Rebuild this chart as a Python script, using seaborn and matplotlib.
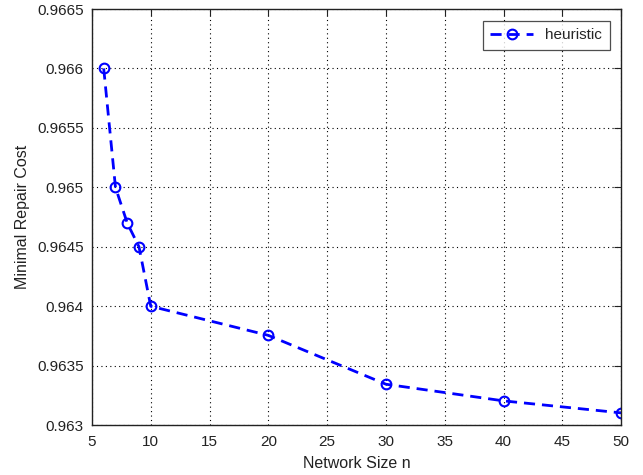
import numpy as np
import pandas as pd
import seaborn as sns
import matplotlib
matplotlib.use("Agg")
import matplotlib.pyplot as plt

# Data
network_size = [6, 7, 8, 9, 10, 20, 30, 40, 50]
repair_cost = [0.9660, 0.9650, 0.96470, 0.96450, 0.96400, 0.963755, 0.963344, 0.963204, 0.963103]
x_ticks = [5, 10, 15, 20, 25, 30, 35, 40, 45, 50]
y_ticks = [0.963, 0.9635, 0.964, 0.9645, 0.965, 0.9655, 0.966, 0.9665]
y_tick_labels = ["0.963", "0.9635", "0.964", "0.9645", "0.965", "0.9655", "0.966", "0.9665"]

df = pd.DataFrame({"n": network_size, "cost": repair_cost})

sns.set_style("white")
plt.rcParams['font.family'] = ['Liberation Sans', 'DejaVu Sans']

fig = plt.figure(figsize=(6.43, 4.75), dpi=100)
ax = fig.add_axes([0.143, 0.105, 0.823, 0.876])

sns.lineplot(data=df, x="n", y="cost", ax=ax, color="blue",
             linestyle=(0, (4, 2.5)), linewidth=2, marker="o", markersize=7,
             markerfacecolor="none", markeredgecolor="blue",
             markeredgewidth=1.5, label="heuristic")

ax.set_xlim(5, 50)
ax.set_ylim(0.963, 0.9665)
ax.set_xticks(x_ticks)
ax.set_yticks(y_ticks)
ax.set_yticklabels(y_tick_labels)
ax.grid(True, color="black", linestyle=(0, (1, 3)), linewidth=0.8)
ax.tick_params(direction="in", top=True, right=True, length=5, labelsize=11,
               colors="#222222")
ax.tick_params(axis="x", pad=7)
ax.tick_params(axis="y", pad=6)
for s in ax.spines.values():
    s.set_color("#222222")
    s.set_linewidth(1.0)

ax.set_xlabel("Network Size n", fontsize=11.5, color="#222222", labelpad=5)
ax.set_ylabel("Minimal Repair Cost", fontsize=11.5, color="#222222", labelpad=5)

leg = ax.legend(loc="upper right", fontsize=11, frameon=True, fancybox=False,
                edgecolor="#222222", handlelength=2.8, borderpad=0.5,
                bbox_to_anchor=(0.993, 0.99))
leg.get_frame().set_linewidth(0.9)

fig.savefig("out.png", dpi=100)
